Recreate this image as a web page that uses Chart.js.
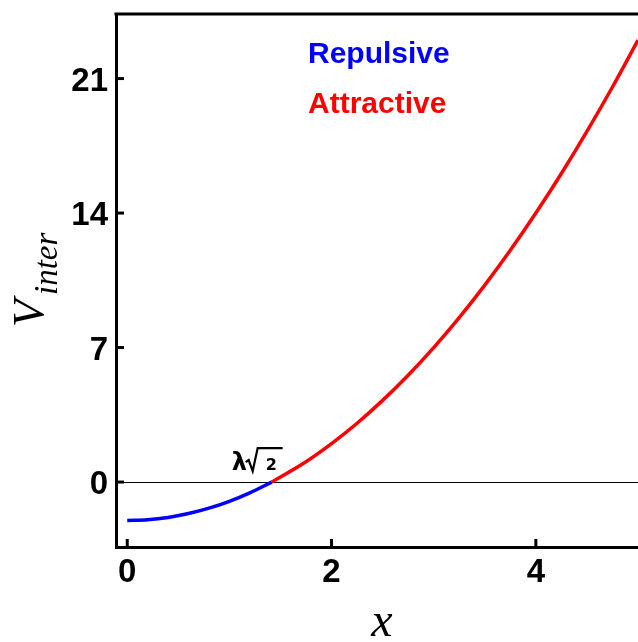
<!DOCTYPE html>
<html>
<head>
<meta charset="utf-8">
<script src="https://cdn.jsdelivr.net/npm/chart.js@4/dist/chart.umd.min.js"></script>
<style>
  html, body { margin: 0; padding: 0; background: #fff; }
  #wrap { width: 638px; height: 642px; }
</style>
</head>
<body>
<div id="wrap"><canvas id="chart" width="638" height="642"></canvas></div>
<script>
// values
const xRepulsive = [0, 0.2, 0.4, 0.6, 0.8, 1.0, 1.2, 1.414];
const vRepulsive = [-2.0, -1.96, -1.84, -1.64, -1.36, -1.0, -0.56, 0];
const xAttractive = [1.414, 1.75, 2.0, 2.25, 2.5, 2.75, 3.0, 3.25, 3.5, 3.75, 4.0, 4.25, 4.5, 4.75, 5.0];
const vAttractive = [0, 1.06, 2.0, 3.06, 4.25, 5.56, 7.0, 8.56, 10.25, 12.06, 14.0, 16.06, 18.25, 20.56, 23.0];
const xTicks = [0, 2, 4];
const yTicks = [0, 7, 14, 21];
const crossing = 1.414;

function toPoints(xs, ys) {
    return xs.map((x, i) => ({ x: x, y: ys[i] }));
}

const tickFont = { family: '"Liberation Sans", Arial, sans-serif', size: 33, weight: 'bold' };

// frame top, inward ticks, titles and text labels
const decorations = {
    id: 'decorations',
    afterDraw(chart) {
        const ctx = chart.ctx;
        const area = chart.chartArea;
        const xs = chart.scales.x;
        const ys = chart.scales.y;
        ctx.save();
        ctx.strokeStyle = '#000';
        ctx.lineWidth = 3;
        // top frame line
        ctx.beginPath();
        ctx.moveTo(area.left - 1.5, area.top);
        ctx.lineTo(area.right, area.top);
        ctx.stroke();
        // inward ticks
        yTicks.forEach(v => {
            const p = ys.getPixelForValue(v);
            ctx.beginPath();
            ctx.moveTo(area.left, p);
            ctx.lineTo(area.left + 8, p);
            ctx.stroke();
        });
        xTicks.forEach(v => {
            const p = xs.getPixelForValue(v);
            ctx.beginPath();
            ctx.moveTo(p, area.bottom);
            ctx.lineTo(p, area.bottom - 8);
            ctx.stroke();
        });

        // legend-like labels
        ctx.font = 'bold 30px "Liberation Sans", Arial, sans-serif';
        ctx.textAlign = 'left';
        ctx.textBaseline = 'alphabetic';
        ctx.fillStyle = '#0000ff';
        ctx.fillText('Repulsive', 308, 63);
        ctx.fillStyle = '#ff0000';
        ctx.fillText('Attractive', 308, 113);

        // lambda sqrt(2) label near the zero crossing
        const cx = xs.getPixelForValue(crossing);
        const cy = ys.getPixelForValue(0);
        const bx = cx - 40;
        const by = cy - 12;
        ctx.fillStyle = '#000';
        ctx.font = 'bold 24px "DejaVu Sans", sans-serif';
        ctx.fillText('\u03bb', bx, by);
        ctx.lineWidth = 2.2;
        ctx.lineJoin = 'miter';
        ctx.beginPath();
        ctx.moveTo(bx + 14, by - 8);
        ctx.lineTo(bx + 17, by - 10);
        ctx.lineTo(bx + 21, by + 1);
        ctx.lineTo(bx + 26, by - 22);
        ctx.lineTo(bx + 51, by - 22);
        ctx.stroke();
        ctx.font = 'bold 16px "DejaVu Sans", sans-serif';
        ctx.fillText('2', bx + 34, by);

        // x axis title
        ctx.font = 'italic 48px "Liberation Serif", serif';
        ctx.textAlign = 'center';
        ctx.fillText('x', 382, 636);

        // y axis title with subscript
        ctx.translate(43, 327);
        ctx.rotate(-Math.PI / 2);
        ctx.textAlign = 'left';
        ctx.font = 'italic 45px "Liberation Serif", serif';
        ctx.fillText('V', 0, 0);
        ctx.font = 'italic 33px "Liberation Serif", serif';
        ctx.fillText('inter', 32, 14);
        ctx.restore();
    }
};

new Chart(document.getElementById('chart').getContext('2d'), {
    type: 'scatter',
    data: {
        datasets: [
            {
                label: 'Repulsive',
                data: toPoints(xRepulsive, vRepulsive),
                showLine: true,
                borderColor: '#0000ff',
                borderWidth: 3.5,
                pointRadius: 0,
                cubicInterpolationMode: 'monotone'
            },
            {
                label: 'Attractive',
                data: toPoints(xAttractive, vAttractive),
                showLine: true,
                borderColor: '#ff0000',
                borderWidth: 3.5,
                pointRadius: 0,
                cubicInterpolationMode: 'monotone'
            }
        ]
    },
    options: {
        responsive: false,
        animation: false,
        layout: { padding: { top: 14, left: 0, right: 0, bottom: 0 } },
        plugins: {
            legend: { display: false },
            tooltip: { enabled: false }
        },
        scales: {
            x: {
                type: 'linear',
                min: -0.11,
                max: 5.0,
                afterBuildTicks: scale => { scale.ticks = xTicks.map(v => ({ value: v })); },
                afterFit: scale => {
                    scale.height = 95;
                    scale.paddingLeft = 0;
                    scale.paddingRight = 0;
                },
                grid: { display: true, drawOnChartArea: false, drawTicks: false },
                border: { display: true, color: '#000', width: 3 },
                ticks: { color: '#000', font: tickFont, padding: 6, maxRotation: 0 }
            },
            y: {
                type: 'linear',
                min: -3.38,
                max: 24.36,
                afterBuildTicks: scale => { scale.ticks = yTicks.map(v => ({ value: v })); },
                afterFit: scale => {
                    scale.width = 116;
                    scale.paddingTop = 0;
                    scale.paddingBottom = 0;
                },
                grid: {
                    drawTicks: false,
                    color: c => (c.tick && c.tick.value === 0 ? '#000' : 'rgba(0,0,0,0)'),
                    lineWidth: 1
                },
                border: { display: true, color: '#000', width: 3 },
                ticks: { color: '#000', font: tickFont, padding: 8, labelOffset: 3 }
            }
        }
    },
    plugins: [decorations]
});
</script>
</body>
</html>
